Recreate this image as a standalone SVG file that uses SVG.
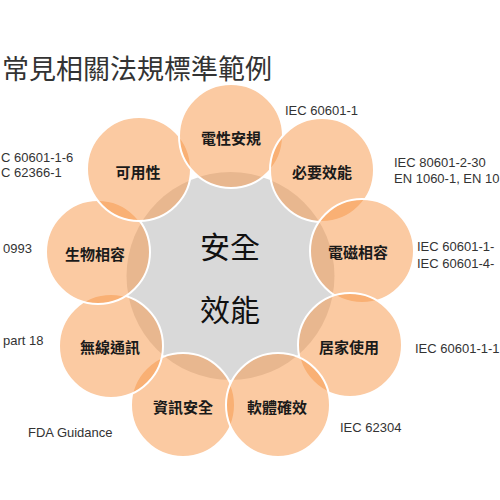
<svg xmlns="http://www.w3.org/2000/svg" width="500" height="500" viewBox="0 0 500 500">
<style>
.bg{fill:#ffffff}
.hub{fill:#d9d9d9}
.petal{fill:#f79646;fill-opacity:0.5;stroke:#ffffff;stroke-width:2}
.lbl{font-family:"Noto Sans CJK TC","Noto Sans CJK SC",sans-serif;font-size:15px;font-weight:bold;fill:#1a1a1a;text-anchor:middle;dominant-baseline:central}
.hubt{font-family:"Noto Sans CJK TC","Noto Sans CJK SC",sans-serif;font-size:30px;fill:#111111;text-anchor:middle;dominant-baseline:central}
.title{font-family:"Noto Sans CJK TC","Noto Sans CJK SC",sans-serif;font-size:27px;fill:#333333}
.std{font-family:"Liberation Sans",Arial,sans-serif;font-size:13px;fill:#333333;dominant-baseline:central}
</style>
<rect class="bg" x="0" y="0" width="500" height="500"/>
<text class="title" x="2" y="79">常見相關法規標準範例</text>
<g id="hub">
<circle class="hub" cx="230.5" cy="276" r="104"/>
</g>
<g id="connectors"></g>
<g id="n-info"><circle class="petal" cx="183" cy="405" r="52"/></g>
<g id="n-wireless"><circle class="petal" cx="111" cy="346" r="52"/></g>
<g id="n-bio"><circle class="petal" cx="98" cy="252" r="52"/></g>
<g id="n-usability"><circle class="petal" cx="139" cy="169" r="52"/></g>
<g id="n-elec"><circle class="petal" cx="231" cy="136" r="52"/></g>
<g id="n-essential"><circle class="petal" cx="322" cy="170" r="52"/></g>
<g id="n-emc"><circle class="petal" cx="362" cy="251" r="52"/></g>
<g id="n-home"><circle class="petal" cx="350" cy="345" r="52"/></g>
<g id="n-software"><circle class="petal" cx="278" cy="405" r="52"/></g>
<g id="labels">
<text class="lbl" x="231" y="137">電性安規</text>
<text class="lbl" x="322" y="171">必要效能</text>
<text class="lbl" x="358" y="251">電磁相容</text>
<text class="lbl" x="349" y="346">居家使用</text>
<text class="lbl" x="277" y="406">軟體確效</text>
<text class="lbl" x="183" y="406">資訊安全</text>
<text class="lbl" x="110" y="346">無線通訊</text>
<text class="lbl" x="95" y="253">生物相容</text>
<text class="lbl" x="138" y="171">可用性</text>
<text class="hubt" x="230" y="245">安全</text>
<text class="hubt" x="230" y="308">效能</text>
</g>
<g id="standards">
<text class="std" x="285" y="110">IEC 60601-1</text>
<text class="std" x="394" y="162">IEC 80601-2-30</text>
<text class="std" x="394" y="178">EN 1060-1, EN 10</text>
<text class="std" x="417" y="246">IEC 60601-1-</text>
<text class="std" x="417" y="263">IEC 60601-4-</text>
<text class="std" x="415" y="348">IEC 60601-1-1</text>
<text class="std" x="340" y="427">IEC 62304</text>
<text class="std" x="28" y="432">FDA Guidance</text>
<text class="std" x="3" y="340">part 18</text>
<text class="std" x="3" y="248">0993</text>
<text class="std" x="1" y="157">C 60601-1-6</text>
<text class="std" x="1" y="172">C 62366-1</text>
</g>
</svg>
